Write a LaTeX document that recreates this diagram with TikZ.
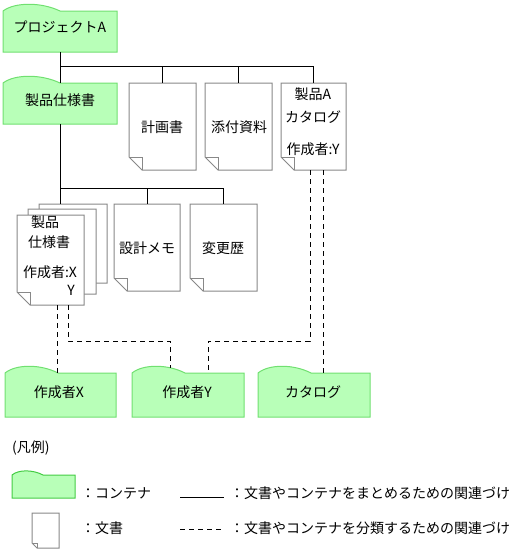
\documentclass[tikz,border=0pt]{standalone}
\usepackage{fontspec}
\newfontfamily\jp{Noto Sans CJK JP}
\usetikzlibrary{calc}
\definecolor{cfill}{RGB}{184,255,184}
\definecolor{cline}{RGB}{112,224,112}
\definecolor{cline2}{RGB}{68,204,68}
\definecolor{dline}{RGB}{136,136,136}
\tikzset{
  ctrshape/.style={fill=cfill, draw=cline, line width=1pt},
  docshape/.style={fill=white, draw=dline, line width=1pt, line join=miter},
  holder/.style={inner sep=0pt, outer sep=0pt, draw=none, rectangle},
  txt/.style={font=\jp\fontsize{14}{16}\selectfont, inner sep=0pt},
  link/.style={draw=black, line width=1pt},
  clink/.style={draw=black, line width=1pt, dash pattern=on 5pt off 4pt},
}
% container: name, x0, x1, ytop, ybottom, bump width, bump control height, extra style
\newcommand\ctr[8]{%
  \draw[ctrshape,#8] (#2,#5) -- (#2,#4) .. controls (#2+0.21*#6,#4-#7) and (#2+0.67*#6,#4-#7) .. (#2+#6,#4) -- (#3,#4) -- (#3,#5) -- cycle;
  \node[holder, minimum width={(#3-#2)*1pt}, minimum height={(#5-#4)*1pt}] (#1) at ({(#2+#3)/2},{(#4+#5)/2}) {};
}
% document: name, left, right, top, bottom, fold
\newcommand\doc[6]{%
  \draw[docshape] (#2,#4) -- (#3,#4) -- (#3,#5) -- (#2+#6,#5) -- (#2,#5-#6) -- cycle;
  \draw[docshape, fill=none] (#2,#5-#6) -- (#2+#6,#5-#6) -- (#2+#6,#5);
  \node[holder, minimum width={(#3-#2)*1pt}, minimum height={(#5-#4)*1pt}] (#1) at ({(#2+#3)/2},{(#4+#5)/2}) {};
}
\begin{document}
\begin{tikzpicture}[x=1pt,y=-1pt]
\useasboundingbox (0,0) rectangle (532,552);

% containers
\ctr{pa}{3}{117}{11}{52}{57}{9}{}
\ctr{ps}{3}{117}{83}{124}{57}{9}{}
\ctr{cx}{5}{116}{373}{417}{53}{9}{}
\ctr{cy}{132}{244}{373}{417}{53}{9}{}
\ctr{ck}{258}{370}{373}{417}{53}{9}{}

% documents
\doc{kk}{129}{196}{83}{170}{13}
\doc{tf}{205}{272}{83}{170}{13}
\doc{cat}{281}{346}{83}{170}{13}
\doc{stc}{39}{107}{204}{283}{13}
\doc{stb}{28}{96}{209}{294}{13}
\doc{st}{17}{84}{215}{305}{13}
\doc{sm}{114}{180}{204}{291}{13}
\doc{hh}{190}{257}{204}{291}{13}

% solid connectors
\coordinate (j1) at ($(pa.south)+(0,14)$);
\draw[link] (pa.south) -- (ps.north);
\draw[link] (j1) -| (kk.north);
\draw[link] (j1) -| (tf.north);
\draw[link] (j1) -| (cat.north);
\coordinate (j2) at ($(ps.south)+(0,64)$);
\draw[link] (ps.south) -- (ps.south |- stc.north);
\draw[link] (j2) -| (sm.north);
\draw[link] (j2) -| (hh.north);

% dashed connectors
\coordinate (s1) at ($(st.south)+(6.5,0)$);
\coordinate (s2) at ($(st.south)+(17.5,0)$);
\coordinate (h1) at ($(s2)+(0,36)$);
\coordinate (y1) at ($(cy.north west)+(38,-5)$);
\coordinate (y2) at ($(cy.north west)+(76,0)$);
\coordinate (c1) at ($(cat.south)+(-3.5,0)$);
\coordinate (c2) at ($(cat.south)+(9.5,0)$);
\draw[clink] (s1) -- (s1 |- cx.north);
\draw[clink] (s2) -- (h1) -| (y1);
\draw[clink] (c1) -- (c1 |- h1) -| (y2);
\draw[clink] (c2) -- (c2 |- ck.north);

% texts
\node[txt] (paT) at (60,27) {プロジェクトA};
\node[txt] (psT) at (60,100) {製品仕様書};
\node[txt] (kkT) at (162,127) {計画書};
\node[txt] (tfT) at (239,127) {添付資料};
\node[txt] (catT1) at (313,94) {製品A};
\node[txt] (catT2) at (313,117) {カタログ};
\node[txt] (catT3) at (313,149) {作成者:Y};
\node[txt] (stT1) at (45,222) {製品};
\node[txt] (stT2) at (49,242) {仕様書};
\node[txt] (stT3) at (50,272) {作成者:X};
\node[txt] (stT4) at (71,290) {Y};
\node[txt] (smT) at (147,248) {設計メモ};
\node[txt] (hhT) at (223,248) {変更歴};
\node[txt] (cxT) at (59,392) {作成者X};
\node[txt] (cyT) at (187,392) {作成者Y};
\node[txt] (ckT) at (313,392) {カタログ};

% legend
\node[txt, anchor=west] (lgT) at (12,448) {(凡例)};
\ctr{lc}{12}{75}{475}{498}{31}{5.5}{draw=cline2}
\doc{ld}{32}{59}{513}{548}{5}
\node[txt, anchor=west] (lcT) at (81,493) {：コンテナ};
\node[txt, anchor=west] (ldT) at (81,528) {：文書};
\coordinate (lA) at (180,497);
\coordinate (lB) at (224,497);
\coordinate (lC) at (180,529);
\coordinate (lD) at (224,529);
\draw[link] (lA) -- (lB);
\draw[clink] (lC) -- (lD);
\node[txt, anchor=west] (lsT) at (230,493) {：文書やコンテナをまとめるための関連づけ};
\node[txt, anchor=west] (ldashT) at (230,528) {：文書やコンテナを分類するための関連づけ};
\end{tikzpicture}
\end{document}
